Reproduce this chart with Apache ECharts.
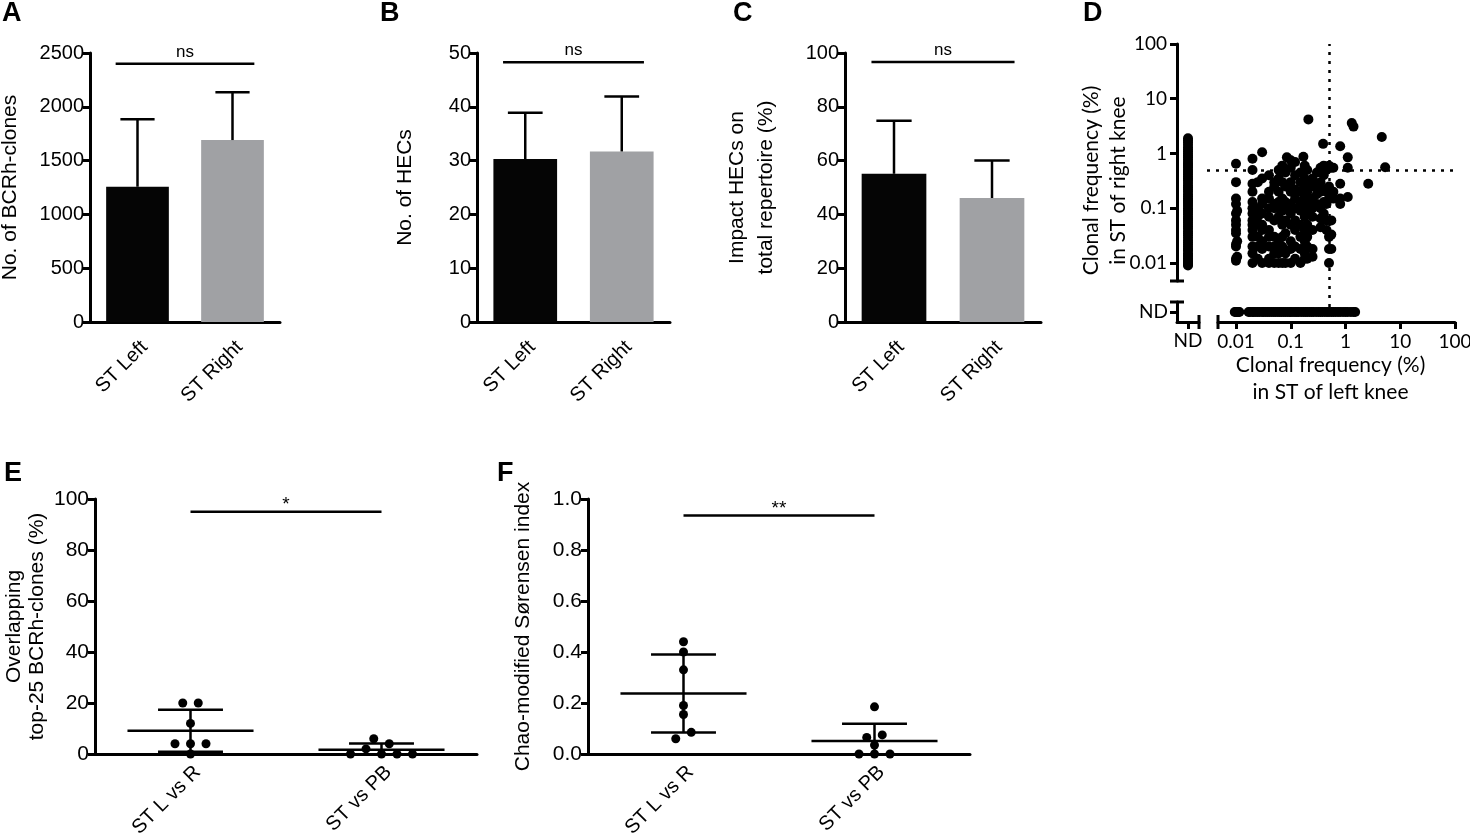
<!DOCTYPE html>
<html>
<head>
<meta charset="utf-8">
<script src="https://cdn.jsdelivr.net/npm/echarts@6/dist/echarts.min.js"></script>
<style>
  html, body { margin: 0; padding: 0; background: #fff; }
  #box { width: 1470px; height: 838px; }
</style>
</head>
<body>
<div id="box"></div>
<script>
// A-C: mean + SD bars
const barCats = ['ST Left', 'ST Right'];
const aMean = [1257, 1691], aSD = [627, 444];
const bMean = [30.3, 31.7], bSD = [8.6, 10.2];
const cMean = [55.1, 46.1], cSD = [19.7, 13.9];
const aSig = 2400, bSig = 48.3, cSig = 96.7;

// D: clonal frequency (%) left knee vs right knee
const dTicks = [0.01, 0.1, 1, 10, 100];
const dCut = 0.5;
// only in right knee (left = ND)
const ndColY = [1.9, 1.75, 1.6, 1.45, 1.3, 1.2, 1.1, 1.0, 0.92, 0.85, 0.78, 0.7, 0.64, 0.6, 0.55, 0.5,
  0.46, 0.42, 0.38, 0.35, 0.32, 0.29, 0.26, 0.24, 0.22, 0.2, 0.18, 0.165, 0.15, 0.14, 0.13, 0.12,
  0.11, 0.1, 0.092, 0.085, 0.078, 0.07, 0.065, 0.06, 0.055, 0.05, 0.046, 0.042, 0.038, 0.035,
  0.032, 0.029, 0.026, 0.024, 0.022, 0.02, 0.018, 0.017, 0.015, 0.014, 0.013, 0.012, 0.011,
  0.0105, 0.01, 0.0095, 0.009];
// only in left knee (right = ND)
const ndRowX = [0.0095, 0.01, 0.0105, 0.011, 0.0115, 0.017, 0.018, 0.02, 0.021, 0.023, 0.025, 0.027,
  0.03, 0.032, 0.035, 0.038, 0.041, 0.045, 0.049, 0.053, 0.058, 0.063, 0.068, 0.074, 0.08, 0.087,
  0.095, 0.1, 0.11, 0.12, 0.13, 0.14, 0.155, 0.17, 0.185, 0.2, 0.22, 0.24, 0.26, 0.29, 0.32, 0.35,
  0.38, 0.42, 0.46, 0.5, 0.55, 0.6, 0.66, 0.73, 0.8, 0.9, 1.0, 1.1, 1.25, 1.4, 1.5];
// found in both knees [left, right]
const dBoth = [
  [0.01, 0.65], [0.01, 0.3], [0.01, 0.15], [0.01, 0.12], [0.01, 0.08], [0.01, 0.06], [0.01, 0.05],
  [0.01, 0.04], [0.01, 0.035], [0.01, 0.022], [0.01, 0.02], [0.01, 0.012], [0.01, 0.011],
  [0.0105, 0.013], [0.0105, 0.025], [0.0105, 0.09],
  [0.02, 0.8], [0.02, 0.5], [0.02, 0.28], [0.02, 0.2], [0.02, 0.13], [0.02, 0.1], [0.02, 0.08],
  [0.02, 0.06], [0.02, 0.05], [0.02, 0.04], [0.02, 0.03], [0.02, 0.02], [0.02, 0.015], [0.02, 0.01],
  [0.025, 0.3], [0.025, 0.1], [0.025, 0.07], [0.025, 0.05], [0.025, 0.03], [0.025, 0.02], [0.025, 0.012],
  [0.03, 1.05], [0.03, 0.35], [0.03, 0.15], [0.03, 0.12], [0.03, 0.08], [0.03, 0.05], [0.03, 0.04],
  [0.03, 0.025], [0.03, 0.018], [0.03, 0.01],
  [0.04, 0.4], [0.04, 0.2], [0.04, 0.15], [0.04, 0.1], [0.04, 0.07], [0.04, 0.04], [0.04, 0.03],
  [0.04, 0.02], [0.04, 0.012], [0.04, 0.01],
  [0.05, 0.3], [0.05, 0.25], [0.05, 0.12], [0.05, 0.1], [0.05, 0.06], [0.05, 0.03], [0.05, 0.02],
  [0.05, 0.015], [0.05, 0.01],
  [0.06, 0.5], [0.06, 0.35], [0.06, 0.2], [0.06, 0.13], [0.06, 0.1], [0.06, 0.07], [0.06, 0.025],
  [0.06, 0.015], [0.06, 0.01],
  [0.07, 0.6], [0.07, 0.3], [0.07, 0.15], [0.07, 0.12], [0.07, 0.09], [0.07, 0.05], [0.07, 0.03],
  [0.07, 0.02], [0.07, 0.01],
  [0.085, 0.85], [0.08, 0.45], [0.08, 0.25], [0.08, 0.13], [0.08, 0.1], [0.08, 0.06], [0.08, 0.035],
  [0.08, 0.015], [0.08, 0.01],
  [0.1, 0.75], [0.1, 0.55], [0.1, 0.3], [0.1, 0.2], [0.1, 0.12], [0.1, 0.08], [0.1, 0.05],
  [0.1, 0.025], [0.1, 0.018], [0.1, 0.01],
  [0.12, 0.7], [0.12, 0.4], [0.12, 0.22], [0.12, 0.15], [0.12, 0.1], [0.12, 0.06], [0.12, 0.04],
  [0.12, 0.02], [0.12, 0.012],
  [0.15, 0.45], [0.15, 0.3], [0.15, 0.2], [0.15, 0.13], [0.15, 0.09], [0.15, 0.05], [0.15, 0.03],
  [0.15, 0.018], [0.15, 0.01],
  [0.17, 0.87], [0.18, 0.6], [0.18, 0.35], [0.18, 0.25], [0.18, 0.17], [0.18, 0.1], [0.18, 0.07],
  [0.18, 0.04], [0.18, 0.025], [0.18, 0.015], [0.18, 0.012],
  [0.2, 0.5], [0.2, 0.3], [0.2, 0.2], [0.2, 0.12], [0.2, 0.08], [0.2, 0.05], [0.2, 0.03],
  [0.2, 0.02], [0.2, 0.012],
  [0.25, 0.35], [0.25, 0.25], [0.25, 0.15], [0.25, 0.1], [0.25, 0.07], [0.25, 0.04], [0.25, 0.018],
  [0.25, 0.013],
  [0.3, 0.45], [0.3, 0.25], [0.3, 0.18], [0.3, 0.12],
  [0.35, 0.55], [0.35, 0.3], [0.35, 0.2], [0.35, 0.1], [0.35, 0.065], [0.35, 0.045],
  [0.4, 0.6], [0.4, 0.4], [0.4, 0.22], [0.4, 0.13], [0.4, 0.08],
  [0.45, 0.5], [0.45, 0.2], [0.45, 0.12], [0.45, 0.06], [0.45, 0.04],
  [0.5, 0.6], [0.5, 0.25], [0.5, 0.15], [0.5, 0.03], [0.5, 0.018], [0.5, 0.01],
  [0.55, 0.55], [0.55, 0.18], [0.55, 0.16], [0.55, 0.06], [0.55, 0.033], [0.55, 0.018],
  [0.6, 0.55], [0.6, 0.2], [0.6, 0.15],
  [0.8, 0.28], [0.8, 0.15], [0.8, 0.12],
  [1.1, 0.85], [1.1, 0.55], [1.1, 0.16],
  [0.21, 4.2], [1.3, 3.6], [1.4, 3.1], [4.6, 2.0], [5.3, 0.56], [2.6, 0.28], [0.8, 1.36], [0.39, 1.5]
];

// E, F: one dot per patient
const pairCats = ['ST L vs R', 'ST vs PB'];
const eLR = [20, 20, 12, 4, 4, 4, 0];
const ePB = [0, 2, 6, 4, 0, 0, 0];
const fLR = [0.44, 0.40, 0.33, 0.19, 0.155, 0.06, 0.085];
const fPB = [0.185, 0.065, 0.075, 0.035, 0, 0, 0];
const eSig = 95, fSig = 0.935;

const BLACK = '#050505', GREY = '#a0a1a4';
const FONT = '"Liberation Sans", Arial, Helvetica, sans-serif';
const DFONT = 'Lato, "Open Sans", sans-serif';
const line3 = { color: '#000', width: 3 };

const grids = [
  { left: 90, top: 53, width: 190, height: 269 },    // A
  { left: 477, top: 53, width: 193, height: 269 },   // B
  { left: 845, top: 53, width: 196, height: 269 },   // C
  { left: 1177, top: 44, width: 22, height: 237 },   // D ND column
  { left: 1177, top: 302, width: 22, height: 20 },   // D corner
  { left: 1218, top: 302, width: 237, height: 20 },  // D ND row
  { left: 1207, top: 44, width: 248, height: 263 },  // D main field
  { left: 95, top: 499, width: 382, height: 255 },   // E
  { left: 588, top: 499, width: 382, height: 255 }   // F
].map(g => Object.assign({ outerBoundsMode: 'none', containLabel: false }, g));

// log range of D: same px per decade in every piece
const D_MIN = 0.00469;
const decadePx = grids[5].width / (2 - Math.log10(D_MIN));
const fieldMinX = Math.pow(10, 2 - grids[6].width / decadePx);
const fieldMinY = Math.pow(10, 2 - grids[6].height / decadePx);

function mean(a) { return a.reduce((s, v) => s + v, 0) / a.length; }
function sd(a) {
  const m = mean(a);
  return Math.sqrt(a.reduce((s, v) => s + (v - m) * (v - m), 0) / (a.length - 1));
}

// graphpad-like dot rows: close values share a row, spread round the centre
function swarm(values, pxPerUnit) {
  const dot = 7.5, step = 15.5;
  const idx = values.map((v, i) => i).sort((a, b) => values[a] - values[b] || a - b);
  const rows = [];
  idx.forEach(i => {
    const row = rows[rows.length - 1];
    if (row && (values[i] - values[row[0]]) * pxPerUnit < dot) row.push(i);
    else rows.push([i]);
  });
  const off = values.map(() => 0);
  rows.forEach(row => {
    row.sort((a, b) => a - b);
    row.forEach((i, k) => { off[i] = (k - (row.length - 1) / 2) * step; });
  });
  return off;
}

function catAxis(gi, cats, margin) {
  return {
    type: 'category', gridIndex: gi, data: cats,
    axisLine: { lineStyle: line3 },
    axisTick: { alignWithLabel: true, length: 8, lineStyle: line3 },
    axisLabel: { rotate: 45, margin: margin, interval: 0, verticalAlign: 'top',
      color: '#000', fontFamily: FONT, fontSize: 20 }
  };
}

function valAxis(gi, max, step, digits, name, gap, lh, size) {
  return {
    type: 'value', gridIndex: gi, min: 0, max: max, interval: step,
    name: name, nameLocation: 'middle', nameGap: gap, nameMoveOverlap: false,
    nameTextStyle: { color: '#000', fontFamily: FONT, fontSize: 21, lineHeight: lh },
    axisLine: { show: true, lineStyle: line3 },
    axisTick: { show: true, length: 7, lineStyle: line3 },
    axisLabel: { color: '#000', fontFamily: FONT, fontSize: size, margin: 6,
      formatter: v => v.toFixed(digits) },
    splitLine: { show: false }
  };
}

function logAxis(gi, min, shown, capAt, name, gap, pad) {
  const ax = {
    type: 'log', logBase: 10, gridIndex: gi, min: min, max: 100, show: shown,
    splitLine: { show: false }
  };
  if (!shown) return ax;
  return Object.assign(ax, {
    name: name, nameLocation: 'middle', nameGap: gap, nameMoveOverlap: false,
    nameTextStyle: { color: '#000', fontFamily: DFONT, fontSize: 21, lineHeight: 27, padding: pad },
    axisLine: { show: true, symbol: capAt, symbolSize: [14, 3], lineStyle: line3 },
    axisTick: { show: true, customValues: dTicks, length: 7, lineStyle: line3 },
    axisLabel: { customValues: dTicks, color: '#000', fontFamily: DFONT, fontSize: 19, margin: 10,
      formatter: v => String(+(+v).toPrecision(3)) }
  });
}

function ndAxis(gi, shown) {
  if (!shown) return { type: 'category', gridIndex: gi, data: ['ND'], show: false };
  return {
    type: 'category', gridIndex: gi, data: ['ND'],
    axisLine: { show: true, symbol: ['none', 'rect'], symbolSize: [14, 3], lineStyle: line3 },
    axisTick: { show: true, alignWithLabel: true, length: 7, lineStyle: line3 },
    axisLabel: { color: '#000', fontFamily: DFONT, fontSize: 19, margin: 9 }
  };
}

function barSeries(gi, means) {
  return {
    type: 'bar', xAxisIndex: gi, yAxisIndex: gi, barWidth: '66%', silent: true,
    data: means.map((m, i) => ({ value: m, itemStyle: { color: i ? GREY : BLACK } }))
  };
}

function errSeries(gi, means, sds) {
  return {
    type: 'custom', xAxisIndex: gi, yAxisIndex: gi, z: 3, silent: true,
    data: means.map((m, i) => [i, m, m + sds[i]]),
    encode: { x: 0, y: [1, 2] },
    renderItem: function (params, api) {
      const base = api.coord([api.value(0), api.value(1)]);
      const top = api.coord([api.value(0), api.value(2)]);
      const half = api.size([1, 0])[0] * 0.18;
      const st = { stroke: '#000', lineWidth: 2.5 };
      return { type: 'group', children: [
        { type: 'line', shape: { x1: base[0], y1: base[1], x2: top[0], y2: top[1] }, style: st },
        { type: 'line', shape: { x1: top[0] - half, y1: top[1], x2: top[0] + half, y2: top[1] }, style: st }
      ] };
    }
  };
}

function sigSeries(gi, level, text, ext, lift, size) {
  return {
    type: 'custom', xAxisIndex: gi, yAxisIndex: gi, z: 4, silent: true,
    data: [[0, 1, level]],
    encode: { x: [0, 1], y: 2 },
    renderItem: function (params, api) {
      const p0 = api.coord([api.value(0), api.value(2)]);
      const p1 = api.coord([api.value(1), api.value(2)]);
      const pad = api.size([1, 0])[0] * ext;
      return { type: 'group', children: [
        { type: 'line', shape: { x1: p0[0] - pad, y1: p0[1], x2: p1[0] + pad, y2: p1[1] },
          style: { stroke: '#000', lineWidth: 2.5 } },
        { type: 'text', x: (p0[0] + p1[0]) / 2, y: p0[1] - lift,
          style: { text: text, align: 'center', verticalAlign: 'bottom', fontSize: size,
            fontFamily: FONT, fill: '#000' } }
      ] };
    }
  };
}

function meanSdSeries(gi, groups) {
  return {
    type: 'custom', xAxisIndex: gi, yAxisIndex: gi, z: 3, silent: true,
    data: groups.map((g, i) => [i, mean(g), sd(g)]),
    renderItem: function (params, api) {
      const x = api.value(0), m = api.value(1), s = api.value(2);
      const low = Math.max(m - s, 0);
      const pm = api.coord([x, m]), pu = api.coord([x, m + s]), pl = api.coord([x, low]);
      const band = api.size([1, 0])[0];
      const wm = band * 0.33, wc = band * 0.17;
      const st = { stroke: '#000', lineWidth: 2.5 };
      const parts = [
        { type: 'line', shape: { x1: pu[0], y1: pu[1], x2: pl[0], y2: pl[1] }, style: st },
        { type: 'line', shape: { x1: pm[0] - wm, y1: pm[1], x2: pm[0] + wm, y2: pm[1] }, style: st },
        { type: 'line', shape: { x1: pu[0] - wc, y1: pu[1], x2: pu[0] + wc, y2: pu[1] }, style: st }
      ];
      // the lower cap is hidden under the axis when mean - SD falls below zero
      if (m - s > 0) {
        parts.push({ type: 'line', shape: { x1: pl[0] - wc, y1: pl[1], x2: pl[0] + wc, y2: pl[1] }, style: st });
      }
      return { type: 'group', children: parts };
    }
  };
}

function dotSeries(gi, groups, pxPerUnit) {
  const data = [];
  groups.forEach((g, ci) => {
    const off = swarm(g, pxPerUnit);
    g.forEach((v, k) => data.push({ value: [ci, v], symbolOffset: [off[k], 0] }));
  });
  return {
    type: 'scatter', xAxisIndex: gi, yAxisIndex: gi, z: 5, silent: true,
    symbolSize: 9, itemStyle: { color: '#000', opacity: 1 }, data: data
  };
}

function dScatter(gi, data) {
  return {
    type: 'scatter', xAxisIndex: gi, yAxisIndex: gi, silent: true,
    symbolSize: 10, itemStyle: { color: '#000', opacity: 1 }, data: data
  };
}

const letters = [['A', 2, 0], ['B', 380, 0], ['C', 733, 0], ['D', 1083, 0], ['E', 4, 460], ['F', 497, 460]];

const option = {
  animation: false,
  backgroundColor: '#fff',
  title: letters.map(l => ({
    text: l[0], left: l[1], top: l[2], padding: 0,
    textStyle: { fontFamily: FONT, fontWeight: 'bold', fontSize: 27, color: '#000' }
  })),
  grid: grids,
  xAxis: [
    catAxis(0, barCats, 15),
    catAxis(1, barCats, 15),
    catAxis(2, barCats, 15),
    ndAxis(3, false),
    ndAxis(4, true),
    logAxis(5, D_MIN, true, ['rect', 'none'], 'Clonal frequency (%)\nin ST of left knee', 30, [0, 12, 0, 0]),
    logAxis(6, fieldMinX, false),
    catAxis(7, pairCats, 8),
    catAxis(8, pairCats, 8)
  ],
  yAxis: [
    valAxis(0, 2500, 500, 0, 'No. of BCRh-clones', 68, 24, 20),
    valAxis(1, 50, 10, 0, 'No. of HECs', 60, 24, 20),
    valAxis(2, 100, 20, 0, 'Impact HECs on\ntotal repertoire (%)', 64, 29, 20),
    logAxis(3, D_MIN, true, ['rect', 'none'], 'Clonal frequency (%)\nin ST of right knee', 45, [0, 36, 0, 0]),
    ndAxis(4, true),
    ndAxis(5, false),
    logAxis(6, fieldMinY, false),
    valAxis(7, 100, 20, 0, 'Overlapping\ntop-25 BCRh-clones (%)', 46, 23, 21),
    valAxis(8, 1, 0.2, 1, 'Chao-modified Sørensen index', 53, 24, 21)
  ],
  series: [
    barSeries(0, aMean), errSeries(0, aMean, aSD), sigSeries(0, aSig, 'ns', 0.23, 3, 17),
    barSeries(1, bMean), errSeries(1, bMean, bSD), sigSeries(1, bSig, 'ns', 0.23, 3, 17),
    barSeries(2, cMean), errSeries(2, cMean, cSD), sigSeries(2, cSig, 'ns', 0.23, 3, 17),
    dScatter(3, ndColY.map(y => [0, y])),
    dScatter(5, ndRowX.map(x => [x, 0])),
    Object.assign(dScatter(6, dBoth), {
      markLine: {
        silent: true, symbol: ['none', 'none'], label: { show: false },
        lineStyle: { color: '#000', width: 2.5, type: [3, 6] },
        data: [{ xAxis: dCut }, { yAxis: dCut }]
      }
    }),
    meanSdSeries(7, [eLR, ePB]), dotSeries(7, [eLR, ePB], grids[7].height / 100),
    sigSeries(7, eSig, '*', 0, -3, 19),
    meanSdSeries(8, [fLR, fPB]), dotSeries(8, [fLR, fPB], grids[8].height / 1),
    sigSeries(8, fSig, '**', 0, -3, 19)
  ]
};

const chart = echarts.init(document.getElementById('box'), null, { renderer: 'canvas' });
chart.setOption(option);
</script>
</body>
</html>
